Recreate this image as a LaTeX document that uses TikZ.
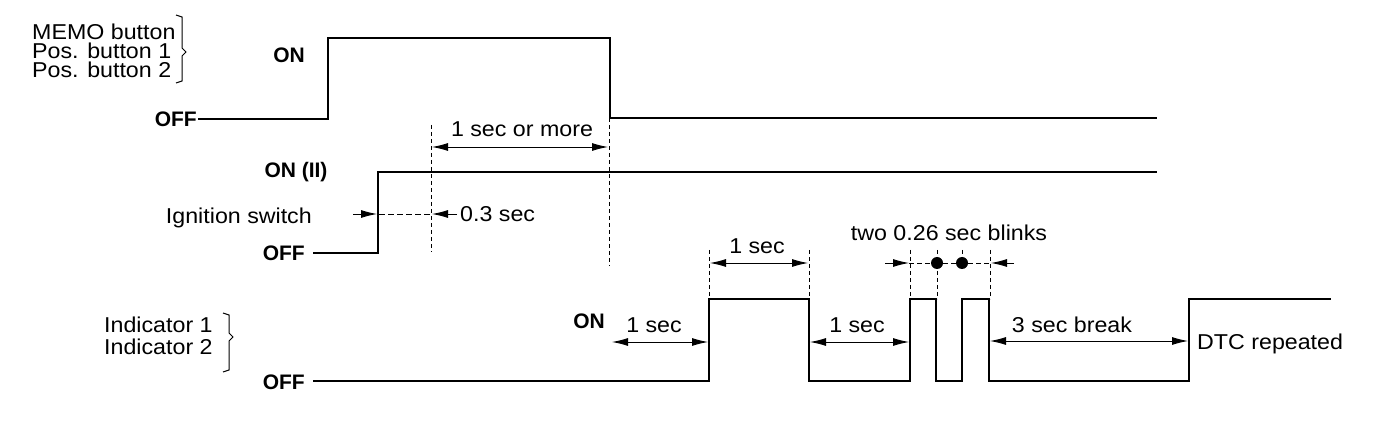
\documentclass[tikz,border=0pt]{standalone}
\usepackage{fontspec}
\setmainfont[FakeStretch=1.08]{Liberation Sans}
\newfontfamily\levelfont{Liberation Sans}
\usetikzlibrary{arrows.meta}
\begin{document}
\begin{tikzpicture}[x=1pt,y=-1pt,
  font=\fontsize{21.5}{19}\selectfont,
  sig/.style={line width=2.4pt, line join=miter},
  guide/.style={line width=0.8pt, dash pattern=on 4pt off 3pt},
  dimline/.style={line width=0.9pt},
  bothtips/.style={dimline, {Latex[length=16pt,width=8pt]}-{Latex[length=16pt,width=8pt]}},
  onetip/.style={dimline, -{Latex[length=16pt,width=8pt]}},
  bracketline/.style={line width=1pt},
  lbl/.style={inner sep=0pt},
  blbl/.style={inner sep=0pt, font=\levelfont\fontsize{21}{19}\selectfont\bfseries},
  blink dot/.style={circle, fill=black, inner sep=0pt, minimum size=12pt}]
\useasboundingbox (0,0) rectangle (1392,438);

% ---------- left labels ----------
\node[lbl, anchor=base west] (memo) at (32,40) {MEMO button};
\node[lbl, anchor=base west] (pos1) at (32,59) {Pos. button 1};
\node[lbl, anchor=base west] (pos2) at (32,78) {Pos. button 2};
\draw[bracketline] (176,15) -- (182,17) -- (182,48) -- (186,52) -- (182,56) -- (182,81) -- (176,83);

\node[lbl, anchor=base west] (ind1) at (104,332) {Indicator 1};
\node[lbl, anchor=base west] (ind2) at (104,354) {Indicator 2};
\draw[bracketline] (223,313) -- (229,315) -- (229,333) -- (233,337) -- (229,341) -- (229,370) -- (223,372);

\node[lbl, anchor=base east] (ign) at (312,224) {Ignition switch};

% ---------- level labels ----------
\node[blbl, anchor=base] (on1) at (289,63) {ON};
\node[blbl, anchor=base east] (off1) at (197,127) {OFF};
\node[blbl, anchor=base] (on2) at (296,178) {ON (II)};
\node[blbl, anchor=base east] (off2) at (305,261) {OFF};
\node[blbl, anchor=base east] (on3) at (605,328) {ON};
\node[blbl, anchor=base east] (off3) at (305,389) {OFF};

% ---------- signals ----------
% button signal
\coordinate (a0) at (198,119);
\coordinate (a1) at (328,119);
\coordinate (a2) at (328,38);
\coordinate (a3) at (610,38);
\coordinate (a4) at (610,118);
\coordinate (a5) at (1157,118);
\draw[sig] (a0) -- (a1) -- (a2) -- (a3) -- (a4) -- (a5);

% ignition signal
\coordinate (b0) at (313,253);
\coordinate (b1) at (378,253);
\coordinate (b2) at (378,172);
\coordinate (b3) at (1157,172);
\draw[sig] (b0) -- (b1) -- (b2) -- (b3);

% indicator signal
\draw[sig] (313,381) -- (709,381) -- (709,299) -- (809,299) -- (809,381)
  -- (910,381) -- (910,299) -- (936,299) -- (936,381) -- (962,381)
  -- (962,299) -- (989,299) -- (989,381) -- (1189,381) -- (1189,299) -- (1331,299);

% ---------- guide lines ----------
\draw[guide] (431,125) -- (431,252);
\draw[guide] (609,118) -- (609,266);
\draw[guide] (709,250) -- (709,299);
\draw[guide] (809,250) -- (809,299);
\draw[guide] (910,250) -- (910,299);
\draw[guide] (937,250) -- (937,299);
\draw[guide] (962,250) -- (962,268);
\draw[guide] (990,250) -- (990,299);

% ---------- dimensions ----------
\draw[bothtips] (432,147) -- (608,147);
\node[lbl, anchor=base] (t1) at (522,137) {1 sec or more};

\coordinate (c0) at (353,214);
\coordinate (c1) at (377,214);
\coordinate (c2) at (379,214);
\coordinate (c3) at (431,214);
\coordinate (c4) at (457,214);
\coordinate (c5) at (432,214);
\draw[onetip] (c0) -- (c1);
\draw[dimline, dash pattern=on 6pt off 3pt] (c2) -- (c3);
\draw[onetip] (c4) -- (c5);
\node[lbl, anchor=base west] (t2) at (460,221.5) {0.3 sec};

\draw[bothtips] (612,342) -- (708,342);
\node[lbl, anchor=base] (t3) at (654,333) {1 sec};

\draw[bothtips] (710,263) -- (808,263);
\node[lbl, anchor=base] (t4) at (757,254) {1 sec};

\draw[bothtips] (810,342) -- (909,342);
\node[lbl, anchor=base] (t5) at (857,333) {1 sec};

\draw[bothtips] (990,341) -- (1188,341);
\node[lbl, anchor=base] (t6) at (1072,333) {3 sec break};
\node[lbl, anchor=base west] (t7) at (1197,349.5) {DTC repeated};

% blinks
\node[lbl, anchor=base] (t8) at (949,240.5) {two 0.26 sec blinks};
\node[blink dot] (d1) at (937,263) {};
\node[blink dot] (d2) at (962,263) {};
\coordinate (e0) at (885,263);
\coordinate (e1) at (909,263);
\coordinate (e2) at (1014,263);
\coordinate (e3) at (991,263);
\draw[onetip] (e0) -- (e1);
\draw[onetip] (e2) -- (e3);
\draw[dimline, dash pattern=on 5pt off 3pt] (e1) -- (d1) -- (d2) -- (e3);
\end{tikzpicture}
\end{document}
